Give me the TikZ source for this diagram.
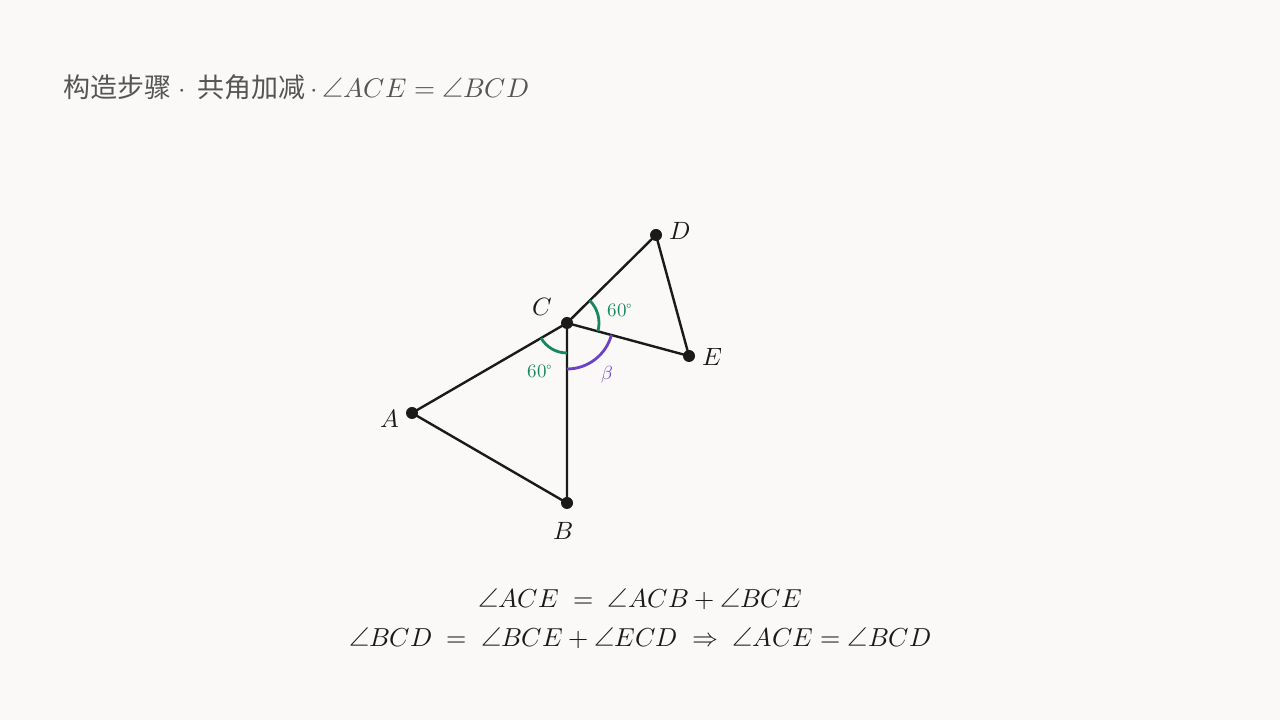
\documentclass[tikz,border=0pt]{standalone}
\usepackage{fontspec}
\usepackage{unicode-math}
\setmathfont{Latin Modern Math}
\newfontfamily\cjk{Noto Sans CJK SC}
\usetikzlibrary{calc}
\definecolor{bg}{HTML}{FAF9F7}
\definecolor{ink}{HTML}{1A1A1A}
\definecolor{titlegrey}{HTML}{555555}
\definecolor{anggreen}{HTML}{17875E}
\definecolor{angpurple}{HTML}{6A42C2}
\tikzset{
  seg/.style={draw=ink, line width=2.4pt},
  pt/.style={circle, fill=ink, inner sep=0pt, minimum size=12pt},
  ptlabel/.style={font=\fontsize{25}{29}\selectfont, text=ink},
  garc/.style={draw=anggreen, line width=2.8pt},
  parc/.style={draw=angpurple, line width=2.8pt},
  anglabel/.style={font=\fontsize{19}{22}\selectfont},
  eqtext/.style={anchor=base, inner sep=0pt, text=ink, font=\fontsize{26}{31}\selectfont},
}
\begin{document}
\begin{tikzpicture}[x=1pt,y=1pt]
\fill[bg] (0,0) rectangle (1280,720);
\useasboundingbox (0,0) rectangle (1280,720);
% title
\node[anchor=base west, inner sep=0pt, text=titlegrey] (title) at (63,622)
  {\fontsize{27}{31}\selectfont{\cjk 构造步骤}\hspace{7pt}$\cdot$\hspace{12pt}{\cjk 共角加减}\hspace{5pt}\fontsize{27}{31}\selectfont$\cdot\,\angle ACE = \angle BCD$};
% points
\coordinate (C) at (567,397);
\coordinate (A) at (412,307);
\coordinate (B) at (567,217);
\coordinate (D) at (656,485);
\coordinate (E) at (689,364);
% segments
\draw[seg] (A) -- (C) -- (B) -- cycle;
\draw[seg] (C) -- (D) -- (E) -- cycle;
% angle arcs
\draw[garc] ($(C)+(210:30)$) arc[start angle=210, end angle=270, radius=30pt];
\draw[garc] ($(C)+(-15:32)$) arc[start angle=-15, end angle=44.7, radius=32pt];
\draw[parc] ($(C)+(270:46)$) arc[start angle=270, end angle=345, radius=46pt];
% dots
\foreach \p in {A,B,C,D,E} \node[pt] (dot\p) at (\p) {};
% labels
\node[ptlabel] (labC) at (542,413) {$C$};
\node[ptlabel] (labD) at (680,489) {$D$};
\node[ptlabel] (labE) at (712,363) {$E$};
\node[ptlabel] (labA) at (390,301) {$A$};
\node[ptlabel] (labB) at (563,189) {$B$};
\node[anglabel, text=anggreen] (ang1) at (620,410) {$60^\circ$};
\node[anglabel, text=anggreen] (ang2) at (540,349) {$60^\circ$};
\node[anglabel, text=angpurple] (ang3) at (607,345) {$\beta$};
% equations
\node[eqtext] (eq1) at (640,112)
  {$\angle ACE \;=\; \angle ACB + \angle BCE$};
\node[eqtext] (eq2) at (640,73)
  {$\angle BCD \;=\; \angle BCE + \angle ECD \;\Rightarrow\; \angle ACE = \angle BCD$};
\end{tikzpicture}
\end{document}
